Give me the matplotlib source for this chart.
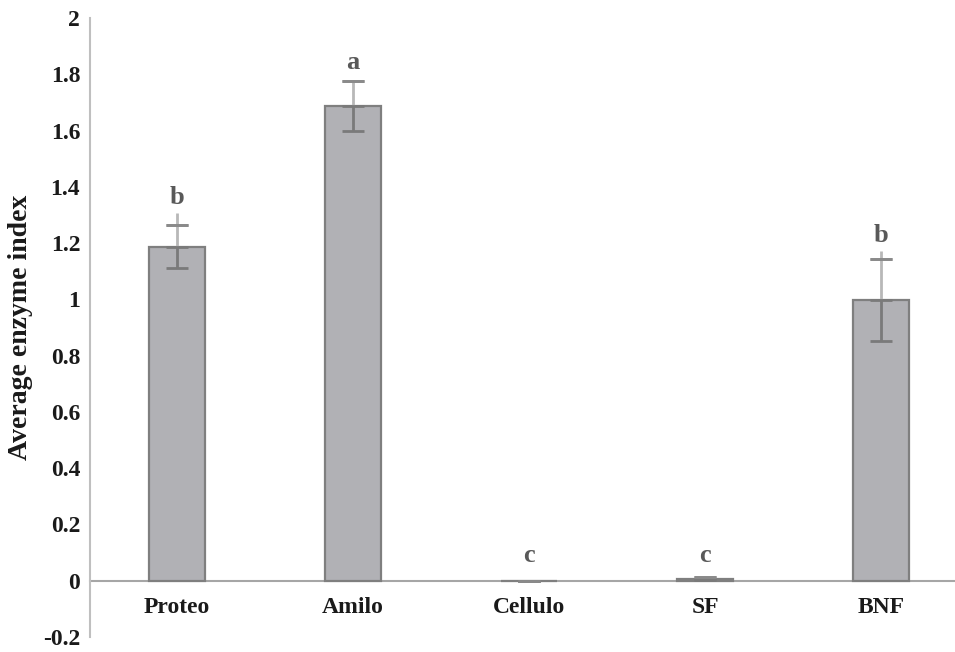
import matplotlib
matplotlib.use("Agg")
import matplotlib.pyplot as plt
import numpy as np

categories = ["Proteo", "Amilo", "Cellulo", "SF", "BNF"]
means = [1.187, 1.687, 0.0, 0.007, 0.998]
err = [0.076, 0.089, 0.0, 0.006, 0.146]
upper_ext = [1.307, 1.776, 0.0, 0.013, 1.172]
letters = ["b", "a", "c", "c", "b"]
letter_y = [1.34, 1.82, 0.065, 0.065, 1.205]

plt.rcParams['font.family'] = ['Liberation Serif', 'DejaVu Serif']
plt.rcParams['font.weight'] = 'bold'

fig = plt.figure(figsize=(9.55, 6.52), dpi=100)
ax = fig.add_axes([0.0942, 0.023, 0.9058, 0.9494])

x = np.arange(len(categories))
means = np.array(means)
err = np.array(err)
zeros = np.zeros(len(categories))

ax.bar(x, means, width=0.32, color='#b1b1b5', edgecolor='#7f7f7f', linewidth=1.6, zorder=2)

# light part of the error bar above the bar
ax.vlines(x, means, upper_ext, color='#b8b8b8', linewidth=2, zorder=3)
# dark lower error bar inside the bar
ax.errorbar(x, means, yerr=[err, zeros], fmt='none', ecolor='#7a7a7a',
            elinewidth=2, capsize=8, capthick=2, zorder=4)
# upper cap
ax.errorbar(x, means + err, yerr=[zeros, zeros], fmt='none', ecolor='#8a8a8a',
            elinewidth=0, capsize=8, capthick=2, zorder=4)

for xi, lab, ly in zip(x, letters, letter_y):
    ax.text(xi, ly, lab, ha='center', va='baseline', fontsize=19,
            fontweight='bold', color='#595959')

ax.set_xlim(-0.494, 4.42)
ax.set_ylim(-0.2, 2.0)
ax.set_yticks(np.arange(-0.2, 2.01, 0.2))
ax.set_yticklabels(['-0.2', '0', '0.2', '0.4', '0.6', '0.8', '1', '1.2', '1.4', '1.6', '1.8', '2'])
ax.set_xticks(x)
ax.set_xticklabels(categories)
ax.tick_params(axis='both', length=0, labelsize=17, colors='#1a1a1a')
ax.tick_params(axis='y', pad=7)
ax.tick_params(axis='x', pad=12)
for lab in ax.get_xticklabels() + ax.get_yticklabels():
    lab.set_fontweight('bold')

ax.spines['top'].set_visible(False)
ax.spines['right'].set_visible(False)
ax.spines['bottom'].set_position(('data', 0))
ax.spines['bottom'].set_color('#a6a6a6')
ax.spines['bottom'].set_linewidth(1.5)
ax.spines['bottom'].set_zorder(1)
ax.spines['left'].set_color('#bfbfbf')
ax.spines['left'].set_linewidth(1.5)

ax.set_ylabel('Average enzyme index', fontsize=20, fontweight='bold', color='#1a1a1a', labelpad=7)

fig.savefig('out.png', dpi=100)
